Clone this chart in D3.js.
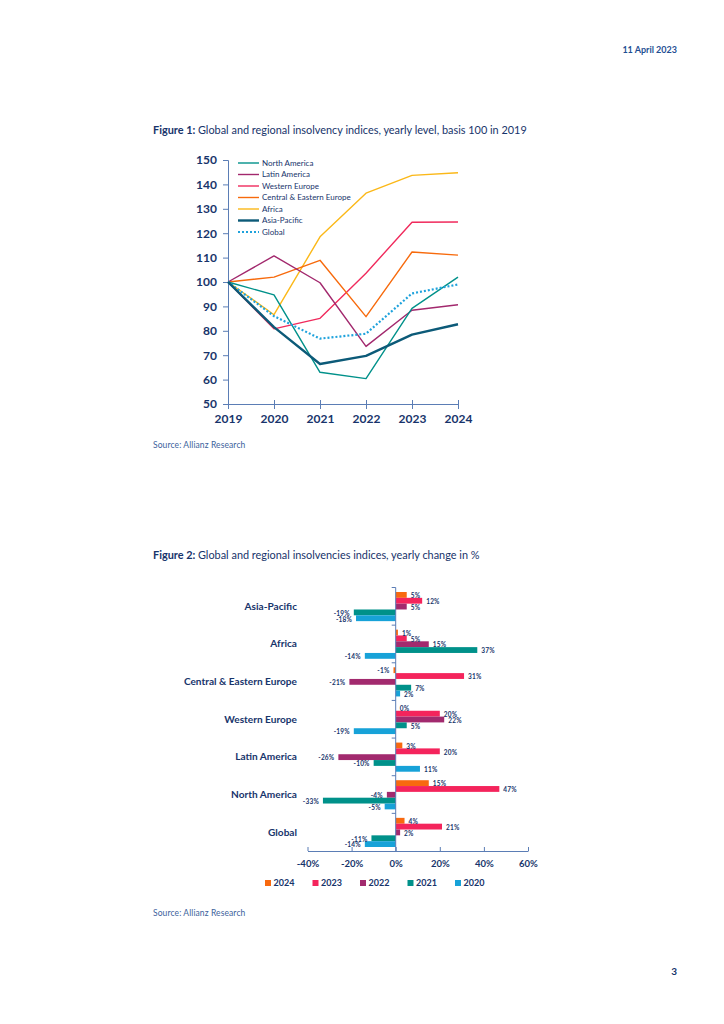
<!DOCTYPE html>
<html lang="en">
<head>
<meta charset="UTF-8">
<title>Insolvency indices</title>
<script src="https://cdn.jsdelivr.net/npm/d3@7"></script>
<style>
    body { margin: 0; background: #fff; }
    svg { display: block; font-family: Lato, "Open Sans", sans-serif; }
</style>
</head>
<body>
<script>

    // FIGURE 1 DATA
    const years = [2019, 2020, 2021, 2022, 2023, 2024]
    const regions = ["North America", "Latin America", "Western Europe", "Central & Eastern Europe", "Africa", "Asia-Pacific", "Global"]
    const northAmerica = [100, 94.7, 63.0, 60.4, 89.2, 102.0]
    const latinAmerica = [100, 110.7, 99.7, 73.6, 88.4, 90.7]
    const westernEurope = [100, 80.8, 85.1, 103.6, 124.5, 124.6]
    const centralEastEurope = [100, 102.0, 108.9, 85.8, 112.3, 111.0]
    const africa = [100, 86.6, 118.5, 136.4, 143.7, 144.8]
    const asiaPacific = [100, 81.5, 66.4, 69.7, 78.4, 82.7]
    const global = [100, 86.0, 76.8, 78.8, 95.3, 99.0]
    const levelTicks = [50, 60, 70, 80, 90, 100, 110, 120, 130, 140, 150]

    // FIGURE 2 DATA (yearly change, %)
    const groups = ["Asia-Pacific", "Africa", "Central & Eastern Europe", "Western Europe", "Latin America", "North America", "Global"]
    const changeYears = ["2024", "2023", "2022", "2021", "2020"]
    const change2024 = [5, 1, -1, 0, 3, 15, 4]
    const change2023 = [12, 5, 31, 20, 20, 47, 21]
    const change2022 = [5, 15, -21, 22, -26, -4, 2]
    const change2021 = [-19, 37, 7, 5, -10, -33, -11]
    const change2020 = [-18, -14, 2, -19, 11, -5, -14]
    const changeTicks = [-40, -20, 0, 20, 40, 60]

    const navy = "#17346b"
    const axisCol = "#5b7db5"

    let svg = d3.select("body").append("svg").attr("width", 724).attr("height", 1024)

    // HEADER / FOOTER
    svg.append("text").attr("x", 677).attr("y", 53).attr("text-anchor", "end")
        .style("font-size", "9px").style("font-weight", "bold").style("fill", "#1f4f93")
        .text("11 April 2023")
    svg.append("text").attr("x", 677).attr("y", 975).attr("text-anchor", "end")
        .style("font-size", "10px").style("font-weight", "bold").style("fill", navy)
        .text("3")

    // ---------------- FIGURE 1 ----------------
    let t1 = svg.append("text").attr("x", 153).attr("y", 134).style("font-size", "10.9px").style("fill", navy)
    t1.append("tspan").style("font-weight", "bold").text("Figure 1: ")
    t1.append("tspan").text("Global and regional insolvency indices, yearly level, basis 100 in 2019")

    let x1 = d3.scalePoint().domain(years).range([228, 458])
    let y1 = d3.scaleLinear().domain([50, 150]).range([404, 160])

    let yAxis1 = svg.append("g").attr("transform", "translate(228,0)")
        .call(d3.axisLeft(y1).tickValues(levelTicks).tickSize(5).tickPadding(6))
    yAxis1.select(".domain").attr("stroke", axisCol)
    yAxis1.selectAll(".tick line").attr("stroke", axisCol)
    yAxis1.selectAll("text").style("font-size", "12px").style("font-weight", "bold").style("fill", navy)
        .style("font-family", "Lato, sans-serif")

    let xAxis1 = svg.append("g").attr("transform", "translate(0,404)")
        .call(d3.axisBottom(x1).tickSize(5).tickPadding(5).tickSizeOuter(0))
    xAxis1.select(".domain").attr("stroke", axisCol)
    xAxis1.selectAll(".tick line").attr("stroke", axisCol).attr("y1", -4)
    xAxis1.selectAll("text").style("font-size", "12px").style("font-weight", "bold").style("fill", navy)
        .style("font-family", "Lato, sans-serif")

    const seriesList = [
        {name: regions[0], values: northAmerica, color: "#00918a", width: 1.4, dash: null},
        {name: regions[1], values: latinAmerica, color: "#a2286d", width: 1.4, dash: null},
        {name: regions[2], values: westernEurope, color: "#f02a5c", width: 1.4, dash: null},
        {name: regions[3], values: centralEastEurope, color: "#f76a0c", width: 1.4, dash: null},
        {name: regions[4], values: africa, color: "#fbb818", width: 1.4, dash: null},
        {name: regions[5], values: asiaPacific, color: "#0c5a78", width: 2.4, dash: null},
        {name: regions[6], values: global, color: "#1ea2dc", width: 2.2, dash: "2,2"}
    ]

    let line = d3.line()
        .x((d, i) => x1(years[i]))
        .y(d => y1(d))

    // draw order: bottom first, asia-pacific and global on top
    const drawOrder = [4, 2, 3, 1, 0, 6, 5]
    drawOrder.forEach(k => {
        let s = seriesList[k]
        svg.append("path")
            .datum(s.values)
            .attr("d", line)
            .style("fill", "none")
            .style("stroke", s.color)
            .style("stroke-width", s.width)
            .style("stroke-dasharray", s.dash)
            .style("stroke-linejoin", "round")
    })

    // LEGEND
    seriesList.forEach((s, i) => {
        let yy = 163 + i * 11.5
        svg.append("line").attr("x1", 238).attr("x2", 259).attr("y1", yy).attr("y2", yy)
            .style("stroke", s.color).style("stroke-width", s.width).style("stroke-dasharray", s.dash)
        svg.append("text").attr("x", 262).attr("y", yy).attr("dy", "0.35em")
            .style("font-size", "8px").style("fill", navy).text(s.name)
    })

    svg.append("text").attr("x", 153).attr("y", 448).style("font-size", "8.5px").style("fill", "#3c5f9c")
        .style("letter-spacing", "0.1px")
        .text("Source: Allianz Research")

    // ---------------- FIGURE 2 ----------------
    let t2 = svg.append("text").attr("x", 153).attr("y", 559).style("font-size", "10.9px").style("fill", navy)
    t2.append("tspan").style("font-weight", "bold").text("Figure 2: ")
    t2.append("tspan").text("Global and regional insolvencies indices, yearly change in %")

    const changeSeries = [change2024, change2023, change2022, change2021, change2020]
    const barColors = ["#f8690f", "#f4245c", "#a22a6e", "#00918a", "#17a2d8"]

    let x2 = d3.scaleLinear().domain([-40, 60]).range([307.5, 528])
    let y2 = d3.scaleBand().domain(groups).range([587.5, 851])
    let yIn = d3.scaleBand().domain(changeYears).range([4.5, y2.bandwidth() - 4])

    let rows = []
    groups.forEach((g, gi) => {
        changeYears.forEach((yr, yi) => {
            rows.push({group: g, year: yr, value: changeSeries[yi][gi], color: barColors[yi]})
        })
    })

    svg.selectAll("rect.bar").data(rows).enter().append("rect")
        .attr("class", "bar")
        .attr("x", d => x2(Math.min(0, d.value)))
        .attr("y", d => y2(d.group) + yIn(d.year))
        .attr("width", d => Math.abs(x2(d.value) - x2(0)))
        .attr("height", yIn.bandwidth())
        .style("fill", d => d.color)

    svg.selectAll("text.val").data(rows).enter().append("text")
        .attr("class", "val")
        .attr("x", d => d.value < 0 ? x2(d.value) - 4 : x2(d.value) + 4)
        .attr("y", d => y2(d.group) + yIn(d.year) + yIn.bandwidth() / 2 + 1)
        .attr("dy", "0.35em")
        .attr("text-anchor", d => d.value < 0 ? "end" : "start")
        .style("font-size", "6.5px").style("font-weight", "bold").style("fill", navy)
        .style("letter-spacing", "0.2px")
        .text(d => d.value + "%")

    // vertical zero axis with group separators
    svg.append("line").attr("x1", x2(0)).attr("x2", x2(0)).attr("y1", 587.5).attr("y2", 851)
        .style("stroke", axisCol).style("stroke-width", 1)
    groups.forEach(g => {
        svg.append("line").attr("x1", x2(0) - 4).attr("x2", x2(0)).attr("y1", y2(g)).attr("y2", y2(g))
            .style("stroke", axisCol)
    })

    // category labels
    svg.selectAll("text.cat").data(groups).enter().append("text")
        .attr("class", "cat")
        .attr("x", 297)
        .attr("y", d => y2(d) + y2.bandwidth() / 2)
        .attr("dy", "0.35em")
        .attr("text-anchor", "end")
        .style("font-size", "10.1px").style("font-weight", "bold").style("fill", navy)
        .text(d => d)

    let xAxis2 = svg.append("g").attr("transform", "translate(0,851)")
        .call(d3.axisBottom(x2).tickValues(changeTicks).tickFormat(d => d + "%").tickSize(0).tickPadding(9))
    xAxis2.select(".domain").attr("stroke", axisCol)
    xAxis2.selectAll(".tick line").attr("stroke", axisCol).attr("y1", -4).attr("y2", 0)
    xAxis2.selectAll("text").style("font-size", "9.5px").style("font-weight", "bold").style("fill", navy)
        .style("font-family", "Lato, sans-serif")

    // legend
    changeYears.forEach((yr, i) => {
        let lx = 265 + i * 47.5
        svg.append("rect").attr("x", lx).attr("y", 880).attr("width", 6).attr("height", 6).style("fill", barColors[i])
        svg.append("text").attr("x", lx + 8.5).attr("y", 883).attr("dy", "0.35em")
            .style("font-size", "9px").style("font-weight", "bold").style("fill", navy).text(yr)
    })

    svg.append("text").attr("x", 153).attr("y", 916).style("font-size", "8.5px").style("fill", "#3c5f9c")
        .style("letter-spacing", "0.1px")
        .text("Source: Allianz Research")

</script>
</body>
</html>
